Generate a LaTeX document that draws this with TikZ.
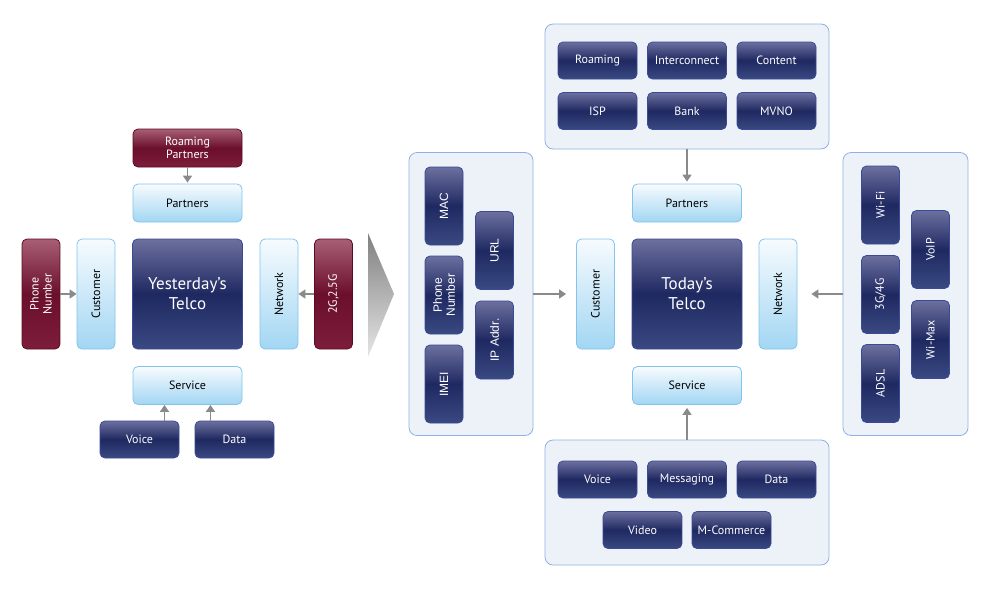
\documentclass[tikz,border=0pt]{standalone}
\usepackage{fontspec}
\setmainfont{PT Sans}
\newfontfamily\arialfont{Liberation Sans}
\usetikzlibrary{arrows.meta}
\definecolor{navyT}{HTML}{6C709F}
\definecolor{navyM}{HTML}{1F2961}
\definecolor{navyB}{HTML}{3A4982}
\definecolor{navyline}{HTML}{3A4A96}
\definecolor{redT}{HTML}{A85F75}
\definecolor{redM}{HTML}{6B0F2C}
\definecolor{redB}{HTML}{7C1D3B}
\definecolor{redline}{HTML}{5C0A24}
\definecolor{lightT}{HTML}{F7FBFE}
\definecolor{lightB}{HTML}{A2D6F3}
\definecolor{lightline}{HTML}{82C4EC}
\definecolor{panelfill}{HTML}{EDF2F8}
\definecolor{panelline}{HTML}{8FB2E2}
\definecolor{arrgray}{HTML}{8A8A8A}
\tikzset{
  box/.style={rounded corners=5pt, line width=0.8pt, inner sep=1pt, align=center, font=\fontsize{12}{13}\selectfont},
  navybox/.style={box, draw=navyline, top color=navyT, bottom color=navyB, middle color=navyM, text=white, minimum width=79pt, minimum height=37pt},
  navyv/.style={navybox, rotate=90, minimum width=78pt, minimum height=38pt},
  lightbox/.style={box, draw=lightline, top color=lightT, bottom color=lightB, text=black, minimum width=109pt, minimum height=38pt},
  lightv/.style={lightbox, rotate=90, minimum width=110pt, minimum height=38pt},
  redbox/.style={box, draw=redline, top color=redT, bottom color=redB, middle color=redM, text=white, minimum width=109pt, minimum height=38pt},
  redv/.style={redbox, rotate=90, minimum width=110pt, minimum height=38pt},
  telco/.style={navybox, minimum width=110pt, minimum height=110pt, font=\fontsize{17}{20}\selectfont},
  panel/.style={draw=panelline, fill=panelfill, rounded corners=8pt, line width=0.8pt},
  arr/.style={draw=arrgray, line width=1.5pt, -{Triangle[length=7pt,width=9pt]}}
}
\begin{document}
\begin{tikzpicture}[x=1pt, y=-1pt]
    \useasboundingbox (0,0) rectangle (995,592);

    % yesterday
    \node[redbox] (roamL) at (187.5,148) {Roaming\\Partners};
    \node[lightbox] (partL) at (187.5,203) {Partners};
    \node[redv] (phoneL) at (41,294) {Phone\\Number};
    \node[lightv] (custL) at (96,294) {Customer};
    \node[telco] (oldTelco) at (187.5,294) {Yesterday’s\\Telco};
    \node[lightv] (netL) at (279,294) {Network};
    \node[redv] (gsmL) at (333.5,294) {2G,2.5G};
    \node[lightbox] (servL) at (187.5,385.5) {Service};
    \node[navybox] (voiceL) at (139.5,439.5) {Voice};
    \node[navybox] (dataL) at (234.5,439.5) {Data};

    \draw[arr, shorten >=1pt] (roamL) -- (partL);
    \draw[arr] (phoneL) -- (custL);
    \draw[arr] (gsmL) -- (netL);
    \draw[arr] ([xshift=-23pt]servL.south |- voiceL.north) -- ([xshift=-23pt]servL.south);
    \draw[arr] ([xshift=23pt]servL.south |- dataL.north) -- ([xshift=23pt]servL.south);

    \shade[top color=gray!100, bottom color=gray!20] (368,233) -- (394,294) -- (368,357) -- cycle;

    % today
    \node[panel, minimum width=124pt, minimum height=283pt] (idPanel) at (471,294) {};
    \node[panel, minimum width=284pt, minimum height=125pt] (partPanel) at (687,86.5) {};
    \node[panel, minimum width=125pt, minimum height=283pt] (netPanel) at (905.5,294) {};
    \node[panel, minimum width=284pt, minimum height=125pt] (servPanel) at (687,502.5) {};

    \foreach \n/\x/\y/\t in {mac/444/206/MAC, phoneR/444/295/{Phone\\Number}, imei/444/384/IMEI,
                             url/494.5/250.5/URL, ip/494.5/340/IP Addr.}
        \node[navyv, font=\arialfont\fontsize{12}{13}\selectfont] (\n) at (\x,\y) {\t};

    \foreach \n/\x/\y/\t in {roamR/597.5/60.5/Roaming, inter/687/60.5/Interconnect, content/776.5/60.5/Content,
                             isp/597.5/111/ISP, bank/687/111/Bank, mvno/776.5/111/MVNO,
                             voiceR/597.5/479.5/Voice, msg/687/479.5/Messaging, dataR/776.5/479.5/Data,
                             video/642.5/530/Video, mcom/731.5/530/M-Commerce}
        \node[navybox] (\n) at (\x,\y) {\t};

    \foreach \n/\x/\y/\t in {wifi/880.5/205/Wi-Fi, g34/880.5/294.5/{3G/4G}, adsl/880.5/383.5/ADSL,
                             voip/930.5/249.5/VoIP, wimax/930.5/339.5/Wi-Max}
        \node[navyv] (\n) at (\x,\y) {\t};

    \node[lightbox] (partR) at (687,203) {Partners};
    \node[lightv] (custR) at (595.5,294) {Customer};
    \node[telco] (newTelco) at (687,294) {Today’s\\Telco};
    \node[lightv] (netR) at (778,294) {Network};
    \node[lightbox] (servR) at (687,385.5) {Service};

    \draw[arr, shorten >=10pt] (idPanel) -- (custR);
    \draw[arr, shorten >=2pt] (partPanel) -- (partR);
    \draw[arr, shorten >=14pt] (netPanel) -- (netR);
    \draw[arr, shorten >=3pt] (servPanel) -- (servR);
\end{tikzpicture}
\end{document}
